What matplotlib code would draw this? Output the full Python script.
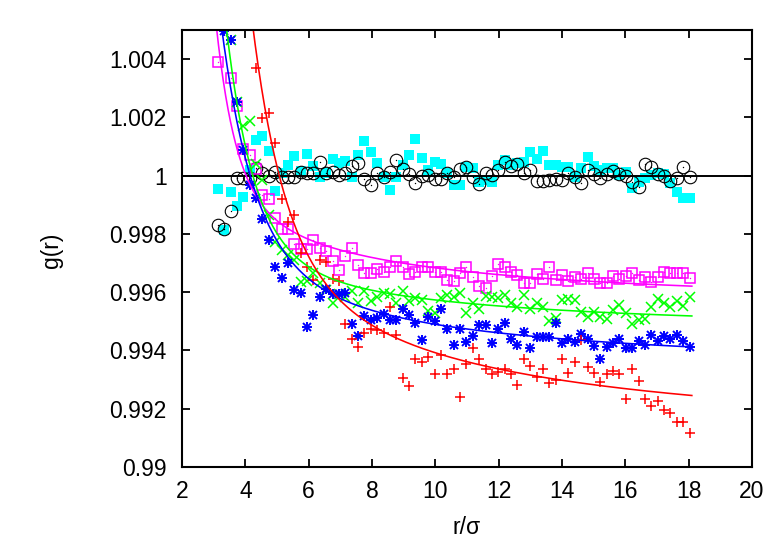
import numpy as np
import matplotlib
matplotlib.use("Agg")
import matplotlib.pyplot as plt

nan = np.nan
# radial grid (r / sigma)
r = np.linspace(3.13, 18.03, 75)

g_black = [0.99831, 0.99817, 0.99880, 0.99991, 0.99991, 0.99992, 1.00025, 1.00008, 0.99999, 1.00014,
           0.99997, 0.99997, 0.99997, 1.00014, 1.00008, 1.00008, 1.00046, 1.00008, 1.00012, 1.00002,
           1.00010, 1.00034, 1.00045, 0.99989, 0.99968, 1.00008, 0.99997, 1.00012, 1.00054, 1.00023,
           1.00006, 0.99974, 0.99999, 1.00002, 0.99989, 0.99989, 1.00010, 0.99997, 1.00023, 1.00029,
           0.99995, 0.99970, 1.00010, 1.00001, 1.00020, 1.00047, 1.00033, 1.00039, 1.00010, 1.00020,
           0.99982, 0.99982, 0.99985, 0.99989, 0.99985, 1.00008, 0.99997, 0.99976, 1.00020, 1.00006,
           0.99991, 1.00006, 1.00017, 1.00006, 0.99999, 0.99979, 0.99960, 1.00039, 1.00029, 1.00006,
           0.99999, 0.99983, 0.99991, 1.00031, 0.99997]

g_cyan = [0.99953, 0.99813, 0.99943, 0.99896, 0.99926, 1.00020, 1.00123, 1.00136, 1.00085, 0.99948,
          1.00009, 1.00037, 1.00068, 1.00016, 1.00074, 1.00033, 0.99995, 1.00010, 1.00056, 1.00043,
          1.00052, 0.99997, 1.00071, 1.00120, 1.00082, 1.00045, 0.99997, 0.99951, 0.99995, 1.00037,
          1.00071, 1.00125, 1.00062, 1.00020, 1.00048, 1.00039, 1.00010, 0.99968, 0.99968, 1.00031,
          1.00025, 0.99979, 0.99985, 0.99979, 1.00037, 1.00054, 1.00037, 1.00045, 1.00048, 1.00080,
          1.00057, 1.00085, 1.00037, 1.00037, 1.00031, 1.00031, 0.99997, 1.00025, 1.00063, 1.00033,
          1.00020, 1.00025, 1.00025, 1.00002, 1.00014, 0.99957, 0.99979, 0.99991, 1.00002, 1.00010,
          1.00006, 0.99974, 0.99945, 0.99924, 0.99924]

g_magenta = [1.00390, nan, 1.00335, 1.00240, 1.00091, 1.00071, 1.00022, 0.99934, 0.99919, 0.99855,
             0.99816, 0.99816, 0.99765, 0.99749, 0.99747, 0.99778, 0.99752, 0.99741, 0.99706, 0.99676,
             0.99725, 0.99752, 0.99692, 0.99667, 0.99667, 0.99681, 0.99668, 0.99687, 0.99707, 0.99685,
             0.99661, 0.99669, 0.99685, 0.99685, 0.99668, 0.99668, 0.99642, 0.99639, 0.99665, 0.99685,
             0.99651, 0.99621, 0.99613, 0.99655, 0.99696, 0.99685, 0.99670, 0.99659, 0.99632, 0.99632,
             0.99661, 0.99647, 0.99685, 0.99642, 0.99660, 0.99638, 0.99651, 0.99647, 0.99665, 0.99645,
             0.99630, 0.99630, 0.99655, 0.99647, 0.99655, 0.99665, 0.99642, 0.99651, 0.99634, 0.99651,
             0.99670, 0.99665, 0.99667, 0.99665, 0.99649]

g_green = [nan, nan, 1.00466, 1.00253, 1.00171, 1.00188, 1.00040, 0.99985, 0.99865, 0.99772,
           0.99745, 0.99727, 0.99710, 0.99636, 0.99639, 0.99665, 0.99630, 0.99607, 0.99562, 0.99593,
           0.99584, 0.99605, 0.99562, 0.99605, 0.99570, 0.99584, 0.99596, 0.99593, 0.99562, 0.99605,
           0.99570, 0.99580, 0.99573, 0.99536, 0.99529, 0.99579, 0.99590, 0.99584, 0.99598, 0.99529,
           0.99562, 0.99541, 0.99587, 0.99582, 0.99579, 0.99590, 0.99564, 0.99548, 0.99590, 0.99541,
           0.99564, 0.99548, 0.99502, 0.99510, 0.99573, 0.99575, 0.99573, 0.99533, 0.99515, 0.99533,
           0.99515, 0.99507, 0.99538, 0.99556, 0.99527, 0.99490, 0.99504, 0.99507, 0.99548, 0.99576,
           0.99564, 0.99548, 0.99569, 0.99552, 0.99584]

g_blue = [nan, 1.00498, 1.00464, 1.00254, 1.00088, 0.99968, 0.99923, 0.99850, 0.99779, 0.99687,
          0.99650, 0.99701, 0.99608, 0.99596, 0.99480, 0.99521, 0.99582, 0.99610, 0.99594, 0.99594,
          0.99597, 0.99490, 0.99451, 0.99520, 0.99503, 0.99510, 0.99525, 0.99504, 0.99504, 0.99541,
          0.99521, 0.99494, 0.99435, 0.99515, 0.99502, 0.99541, 0.99473, 0.99418, 0.99473, 0.99430,
          0.99449, 0.99487, 0.99487, 0.99427, 0.99472, 0.99495, 0.99438, 0.99418, 0.99464, 0.99410,
          0.99447, 0.99447, 0.99445, 0.99495, 0.99426, 0.99441, 0.99430, 0.99456, 0.99441, 0.99415,
          0.99372, 0.99412, 0.99426, 0.99438, 0.99410, 0.99410, 0.99433, 0.99418, 0.99453, 0.99433,
          0.99449, 0.99438, 0.99453, 0.99433, 0.99412]

g_red = [nan, nan, nan, nan, nan, nan, 1.00371, 1.00197, 1.00216, 1.00113,
         0.99919, 0.99841, 0.99865, 0.99734, 0.99686, 0.99641, 0.99709, 0.99702, 0.99644, 0.99638,
         0.99491, 0.99441, 0.99412, 0.99460, 0.99473, 0.99470, 0.99460, 0.99548, 0.99453, 0.99307,
         0.99278, 0.99370, 0.99361, 0.99378, 0.99319, 0.99384, 0.99319, 0.99336, 0.99241, 0.99355,
         0.99409, 0.99370, 0.99336, 0.99319, 0.99326, 0.99336, 0.99319, 0.99283, 0.99372, 0.99346,
         0.99309, 0.99335, 0.99289, 0.99298, 0.99372, 0.99324, 0.99361, 0.99435, 0.99344, 0.99324,
         0.99292, 0.99319, 0.99330, 0.99319, 0.99235, 0.99336, 0.99296, 0.99233, 0.99210, 0.99226,
         0.99195, 0.99186, 0.99155, 0.99155, 0.99118]

# fit curves  g(r) = c + a/r + b*exp(-r/l)   (magenta, green, blue, red)
fit_colors = ['#ff00ff', '#00ff00', '#0000ff', '#ff0000']
fit_c = [0.99543, 0.99451, 0.99317, 0.99067]
fit_a = [0.01407, 0.0122, 0.0172, 0.0323]
fit_b = [0.878, 0.382, 0.171, 0.472]
fit_l = [0.6, 0.85, 1.0, 1.0]

xticks = [2, 4, 6, 8, 10, 12, 14, 16, 18, 20]
yticks = [0.99, 0.992, 0.994, 0.996, 0.998, 1.0, 1.002, 1.004]
ytick_labels = ['0.99', '0.992', '0.994', '0.996', '0.998', '1', '1.002', '1.004']

plt.rcParams['font.family'] = ['Liberation Sans', 'DejaVu Sans']

fig = plt.figure(figsize=(7.77, 5.45), dpi=100)
ax = fig.add_axes([182/777, 1-467/545, 570/777, 437/545])

ax.plot(r, g_cyan, ls='none', marker='s', ms=7.0, mfc='#00ffff', mec='#00ffff', mew=0)
ax.plot(r, g_black, ls='none', marker='o', ms=9.0, mfc='none', mec='black', mew=0.8)
ax.plot(r, g_black, ls='none', marker='o', ms=1.0, mfc='black', mec='black', mew=0)
ax.axhline(1.0, color='black', lw=1.4)
ax.plot(r, g_magenta, ls='none', marker='s', ms=6.6, mfc='none', mec='#ff00ff', mew=1.1)
ax.plot(r, g_magenta, ls='none', marker='o', ms=1.0, mfc='#ff00ff', mec='#ff00ff', mew=0)
ax.plot(r, g_green, ls='none', marker='x', ms=7.0, mec='#00ff00', mew=1.1)
ax.plot(r, g_blue, ls='none', marker='+', ms=7.6, mec='#0000ff', mew=1.4)
ax.plot(r, g_blue, ls='none', marker='x', ms=5.6, mec='#0000ff', mew=1.4)
ax.plot(r, g_red, ls='none', marker='+', ms=7.6, mec='#ff0000', mew=1.1)

rr = np.linspace(3.0, 18.1, 600)
for col, c, a, b, l in zip(fit_colors, fit_c, fit_a, fit_b, fit_l):
    ax.plot(rr, c + a / rr + b * np.exp(-rr / l), color=col, lw=1.15)

ax.set_xlim(2, 20)
ax.set_ylim(0.99, 1.005)
ax.set_xticks(xticks)
ax.set_xticklabels([str(t) for t in xticks])
ax.set_yticks(yticks)
ax.set_yticklabels(ytick_labels)
ax.tick_params(direction='in', length=6, width=1.3, top=True, right=True,
               labelsize=16.5, pad=9)
ax.tick_params(axis='y', pad=11)
for s in ax.spines.values():
    s.set_linewidth(1.5)

fig.text(52/777, 1-250/545, 'g(r)', rotation=90, ha='center', va='center', fontsize=16.5)
fig.text(467/777, 1-527/545, 'r/σ', ha='center', va='center', fontsize=16.5)

fig.savefig('out.png', dpi=100)
